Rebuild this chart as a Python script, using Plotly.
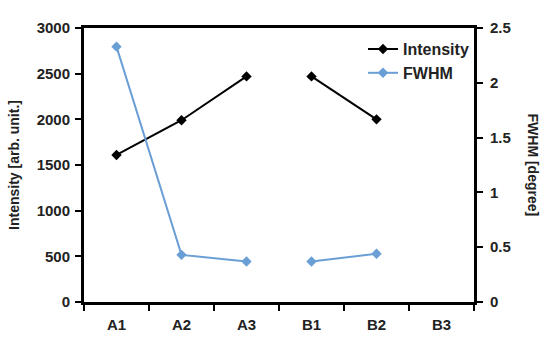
import plotly.graph_objects as go

categories = ["A1", "A2", "A3", "B1", "B2", "B3"]
intensity_a = [1610, 1990, 2470]
intensity_b = [2470, 2000]
fwhm_a = [2.33, 0.43, 0.37]
fwhm_b = [0.37, 0.44]

black = "#000000"
blue = "#6a9fd6"
font = "Liberation Sans"
tc = "#222222"

fig = go.Figure()
fig.add_trace(go.Scatter(x=categories[:3], y=intensity_a, name="Intensity", mode="lines+markers",
                         line=dict(color=black, width=2), marker=dict(symbol="diamond", size=8, color=black),
                         legendgroup="i"))
fig.add_trace(go.Scatter(x=categories[3:5], y=intensity_b, name="Intensity", mode="lines+markers",
                         line=dict(color=black, width=2), marker=dict(symbol="diamond", size=8, color=black),
                         legendgroup="i", showlegend=False))
fig.add_trace(go.Scatter(x=categories[:3], y=fwhm_a, name="FWHM", mode="lines+markers", yaxis="y2",
                         line=dict(color=blue, width=2), marker=dict(symbol="diamond", size=8, color=blue),
                         legendgroup="f"))
fig.add_trace(go.Scatter(x=categories[3:5], y=fwhm_b, name="FWHM", mode="lines+markers", yaxis="y2",
                         line=dict(color=blue, width=2), marker=dict(symbol="diamond", size=8, color=blue),
                         legendgroup="f", showlegend=False))

tf = dict(family=font, size=15, color=tc, weight="bold")
fig.update_layout(
    width=544, height=351,
    margin=dict(l=84, r=70, t=28, b=49),
    paper_bgcolor="white", plot_bgcolor="white",
    font=dict(family=font, color=tc),
    showlegend=True,
    legend=dict(x=1.0, y=0.985, xanchor="right", yanchor="top", bgcolor="rgba(0,0,0,0)",
                font=dict(family=font, size=16, color=tc, weight="bold"), itemwidth=30, tracegroupgap=0),
    xaxis=dict(type="category", categoryorder="array", categoryarray=categories,
               range=[-0.5, 5.5], showgrid=False, zeroline=False,
               showline=True, linecolor=black, linewidth=3, mirror=True,
               ticks="outside", tickson="boundaries", ticklen=6, tickwidth=2, tickcolor=black,
               ticklabelstandoff=7, tickfont=tf),
    yaxis=dict(range=[0, 3000], dtick=500, showgrid=False, zeroline=False,
               showline=True, linecolor=black, linewidth=3,
               ticks="outside", ticklen=6, tickwidth=2, tickcolor=black, ticklabelstandoff=2,
               tickfont=tf,
               title=dict(text="Intensity [arb. unit.]", font=dict(family=font, size=14, color=tc, weight="bold"), standoff=14)),
    yaxis2=dict(range=[0, 2.5], dtick=0.5, overlaying="y", side="right", showgrid=False, zeroline=False,
                showline=True, linecolor=black, linewidth=3,
                ticks="outside", ticklen=6, tickwidth=2, tickcolor=black, ticklabelstandoff=4,
                tickfont=tf),
    annotations=[dict(text="FWHM [degree]", textangle=90, xref="paper", yref="paper",
                      x=1.15, y=0.5, xanchor="center", yanchor="middle", showarrow=False,
                      font=dict(family=font, size=14, color=tc, weight="bold"))],
)

fig.write_html("out.html")
